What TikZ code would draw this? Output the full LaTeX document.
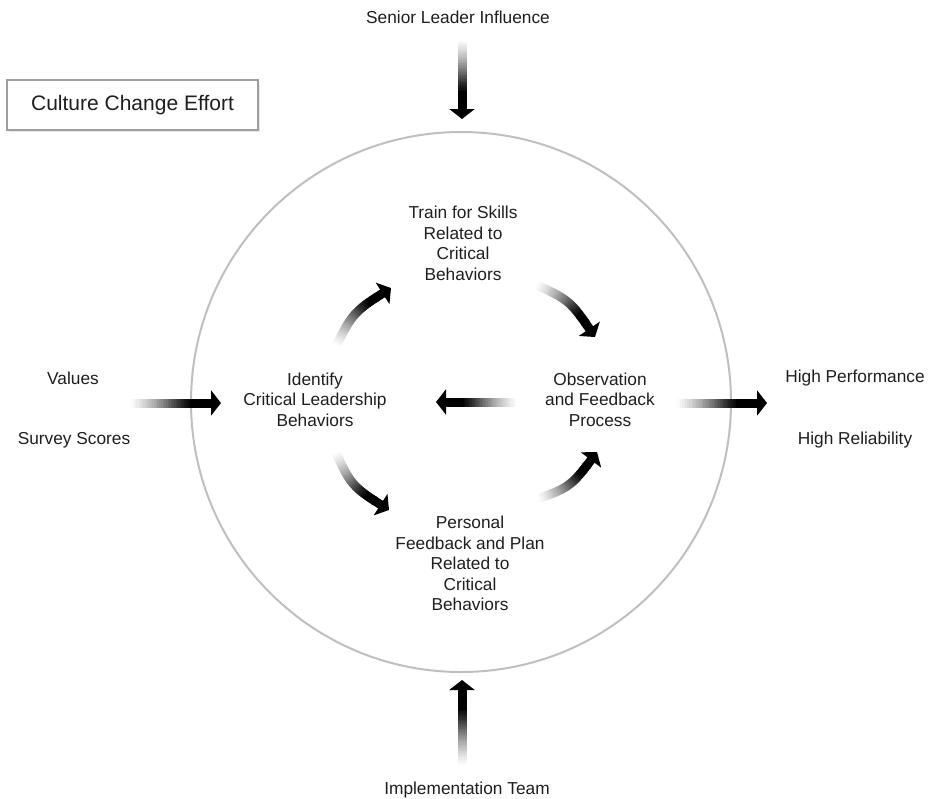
\documentclass[tikz,border=0pt]{standalone}
\usepackage{fontspec}
\setmainfont{Liberation Sans}
\usetikzlibrary{arrows.meta,shadows,calc}

\tikzset{
  lbl/.style={align=center, font=\fontsize{17.3}{20.6}\selectfont, text=black!88, inner sep=0pt},
  ringline/.style={draw=black!25, line width=2pt},
  titlebox/.style={draw=black!38, line width=1.2pt, fill=white, minimum width=251pt, minimum height=50pt,
    inner sep=0pt, font=\fontsize{21}{24}\selectfont, text=black!88,
    drop shadow={opacity=0.18, shadow xshift=1.5pt, shadow yshift=-2pt}},
}
\newcommand\gradarrow[3]{%
  \foreach \i in {0,...,39}{
    \pgfmathsetmacro\ta{\i*0.86/40}
    \pgfmathsetmacro\tb{min(0.86,(\i+1.4)*0.86/40)}
    \pgfmathtruncatemacro\pct{100*max(0,min(1,(\ta-0.05)/0.68))}
    \path (#1) .. controls (#2) .. (#3) coordinate[pos=\ta] (ga) coordinate[pos=\tb] (gb);
    \draw[line width=9pt, black!\pct] (ga) -- (gb);
  }
  \path (#1) .. controls (#2) .. (#3) coordinate[pos=0.84] (gh);
  \draw[line width=9pt, black, -{Triangle[width=25pt,length=10pt]}] (gh) -- (#3);
}

\begin{document}
\begin{tikzpicture}[x=1pt,y=-1pt]
\useasboundingbox (0,0) rectangle (931,798);
\fill[white] (0,0) rectangle (931,798);

% ring
\coordinate (c) at (461,402);
\draw[ringline] (c) circle[radius=270pt];

% title box
\node[titlebox] (box) at (132.5,105) {Culture Change Effort};

% labels
\node[lbl] (senior) at (458,17) {Senior Leader Influence};
\node[lbl] (impl) at (467,790) {Implementation Team};
\node[lbl] (values) at (73,378) {Values};
\node[lbl] (survey) at (74,440) {Survey Scores};
\node[lbl] (perf) at (855,378) {High Performance};
\node[lbl] (rel) at (855,440) {High Reliability};
\node[lbl] (train) at (463,243.5) {Train for Skills\\Related to\\Critical\\Behaviors};
\node[lbl] (ident) at (315,399.5) {Identify\\Critical Leadership\\Behaviors};
\node[lbl] (obs) at (600,399.5) {Observation\\and Feedback\\Process};
\node[lbl] (pers) at (470,563.5) {Personal\\Feedback and Plan\\Related to\\Critical\\Behaviors};

% arrow end points
\coordinate (topT) at (462,33);   \coordinate (topC) at (462,75);  \coordinate (topH) at (462,119);
\coordinate (botT) at (462,773);  \coordinate (botC) at (462,727); \coordinate (botH) at (462,680);
\coordinate (lefT) at (122,403);  \coordinate (lefC) at (171,403); \coordinate (lefH) at (221,403);
\coordinate (rigT) at (668,403);  \coordinate (rigC) at (717,403); \coordinate (rigH) at (767,403);
\coordinate (innT) at (524,402);  \coordinate (innC) at (480,402); \coordinate (innH) at (436,402);

\coordinate (tlT) at (333,352); \coordinate (tlC) at (353,312); \coordinate (tlH) at (391,288);
\coordinate (trT) at (530,282); \coordinate (trC) at (570,300); \coordinate (trH) at (595,337);
\coordinate (blT) at (333,446); \coordinate (blC) at (351,486); \coordinate (blH) at (389,510);
\coordinate (brT) at (532,501); \coordinate (brC) at (571,487); \coordinate (brH) at (597,452);

\gradarrow{topT}{topC}{topH}
\gradarrow{botT}{botC}{botH}
\gradarrow{lefT}{lefC}{lefH}
\gradarrow{rigT}{rigC}{rigH}
\gradarrow{innT}{innC}{innH}
\gradarrow{tlT}{tlC}{tlH}
\gradarrow{trT}{trC}{trH}
\gradarrow{blT}{blC}{blH}
\gradarrow{brT}{brC}{brH}
\end{tikzpicture}
\end{document}
